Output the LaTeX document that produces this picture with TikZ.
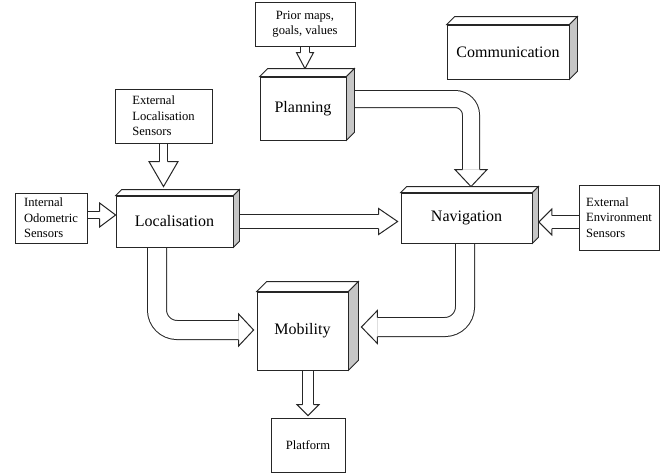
\documentclass[tikz,border=0pt]{standalone}
\usepackage{fontspec}
\setmainfont{Liberation Serif}
\usetikzlibrary{positioning, calc, backgrounds}

\begin{document}
\begin{tikzpicture}[
  x=1pt, y=-1pt,
  line width=0.8pt,
  module/.style={
    rectangle,
    draw=black!85,
    fill=white,
    inner sep=0pt,
    font=\fontsize{16}{19}\selectfont
  },
  sensor/.style={
    rectangle,
    draw=black!85,
    fill=white,
    inner sep=0pt,
    align=left,
    font=\fontsize{12.6}{15.5}\selectfont
  },
  topface/.style={draw=black!85, fill=white},
  sideface/.style={draw=black!85, fill=gray!45},
  shaft/.style={
    line width=1pt,
    draw=black!85,
    double=white,
    double distance=#1
  },
  pics/blockhead/.style n args={3}{code={
    \fill[white] (-#3,-#2/2) -- (0,0) -- (-#3,#2/2) -- cycle;
    \draw[draw=black!85, line width=1pt, line join=miter]
      (-#3,#1/2+0.5pt) -- (-#3,#2/2) -- (0,0) -- (-#3,-#2/2) -- (-#3,-#1/2-0.5pt);
  }}
]
\useasboundingbox (0,0) rectangle (665,474);

% Modules (front faces)
\node[module, minimum width=86pt,  minimum height=63pt] (plan) at (303,108.5) {Planning};
\node[module, minimum width=117pt, minimum height=51pt] (loc)  at (174.5,221.5) {Localisation};
\node[module, minimum width=131pt, minimum height=50pt] (nav)  at (466.5,218) {Navigation};
\node[module, minimum width=91pt,  minimum height=78pt] (mob)  at (302.5,331) {Mobility};
\node[module, minimum width=122pt, minimum height=54pt] (comm) at (508,52) {Communication};

% Depth of the modules
\draw[topface]  (plan.north west) -- ++(8,-8) -- ([shift={(8,-8)}]plan.north east) -- (plan.north east) -- cycle;
\draw[sideface] (plan.north east) -- ++(8,-8) -- ([shift={(8,-8)}]plan.south east) -- (plan.south east) -- cycle;
\draw[topface]  (loc.north west) -- ++(6,-6) -- ([shift={(6,-6)}]loc.north east) -- (loc.north east) -- cycle;
\draw[sideface] (loc.north east) -- ++(6,-6) -- ([shift={(6,-6)}]loc.south east) -- (loc.south east) -- cycle;
\draw[topface]  (nav.north west) -- ++(6,-6) -- ([shift={(6,-6)}]nav.north east) -- (nav.north east) -- cycle;
\draw[sideface] (nav.north east) -- ++(6,-6) -- ([shift={(6,-6)}]nav.south east) -- (nav.south east) -- cycle;
\draw[topface]  (mob.north west) -- ++(10,-10) -- ([shift={(10,-10)}]mob.north east) -- (mob.north east) -- cycle;
\draw[sideface] (mob.north east) -- ++(10,-10) -- ([shift={(10,-10)}]mob.south east) -- (mob.south east) -- cycle;
\draw[topface]  (comm.north west) -- ++(8,-8) -- ([shift={(8,-8)}]comm.north east) -- (comm.north east) -- cycle;
\draw[sideface] (comm.north east) -- ++(8,-8) -- ([shift={(8,-8)}]comm.south east) -- (comm.south east) -- cycle;

% Inputs and platform
\node[sensor, align=center, minimum width=100pt, minimum height=44pt] (prior) at (305,24) {Prior maps,\\goals, values};
\node[sensor, minimum width=97pt, minimum height=54pt] (extloc) at (163.5,116) {External\\Localisation\\Sensors};
\node[sensor, minimum width=72pt, minimum height=50pt] (intodo) at (51,218) {Internal\\Odometric\\Sensors};
\node[sensor, minimum width=80pt, minimum height=65pt] (extenv) at (619,217.5) {External\\Environment\\Sensors};
\node[sensor, align=center, minimum width=74pt, minimum height=54pt] (plat) at (308,445) {Platform};

% Arrow tips
\coordinate (t-plan)    at ($(prior.south |- plan.north)+(0,-8)$);
\coordinate (t-loc)     at ($(extloc.south |- loc.north)+(0,-9)$);
\coordinate (t-odo)     at ($(loc.west)+(0,-6.5)$);
\coordinate (t-env)     at ($(nav.east)+(6.5,4)$);
\coordinate (t-plat)    at ($(plat.north)+(0,-2)$);
\coordinate (t-nav)     at ($(nav.west |- loc.east)+(-3,0)$);
\coordinate (s-plannav) at ($(plan.east)+(8,-9.5)$);
\coordinate (t-plannav) at ($(nav.north)+(4.5,-6)$);
\coordinate (s-locmob)  at ($(loc.south)+(-17.5,0)$);
\coordinate (t-locmob)  at ($(mob.west)+(-3,-1)$);
\coordinate (s-navmob)  at ($(nav.south)+(-1.5,0)$);
\coordinate (t-navmob)  at ($(mob.east)+(13,-4)$);

% Block arrows
\begin{scope}[on background layer]
\draw[shaft=8pt, shorten >=16pt] (prior) -- (t-plan);
\pic[rotate=-90] at (t-plan) {blockhead={8pt}{17pt}{16pt}};

\draw[shaft=7pt, shorten >=25pt] (extloc) -- (t-loc);
\pic[rotate=-90] at (t-loc) {blockhead={7pt}{29pt}{25pt}};

\draw[shaft=6pt, shorten >=16pt] (intodo.east |- t-odo) -- (t-odo);
\pic at (t-odo) {blockhead={6pt}{24pt}{16pt}};

\draw[shaft=12pt, shorten >=13pt] (extenv.west |- t-env) -- (t-env);
\pic[rotate=180] at (t-env) {blockhead={12pt}{26pt}{13pt}};

\draw[shaft=13pt, shorten >=19pt] ($(loc.east)+(6,0)$) -- (t-nav);
\pic at (t-nav) {blockhead={13pt}{26pt}{19pt}};

\draw[shaft=16pt, rounded corners=16pt, shorten >=17pt] (s-plannav) -| (t-plannav);
\pic[rotate=-90] at (t-plannav) {blockhead={16pt}{32pt}{17pt}};

\draw[shaft=18pt, rounded corners=20pt, shorten >=15pt] (s-locmob) |- (t-locmob);
\pic at (t-locmob) {blockhead={18pt}{32pt}{15pt}};

\draw[shaft=18pt, rounded corners=20pt, shorten >=16pt] (s-navmob) |- (t-navmob);
\pic[rotate=180] at (t-navmob) {blockhead={18pt}{33pt}{16pt}};

\draw[shaft=10pt, shorten >=11pt] (t-plat |- mob.south) -- (t-plat);
\pic[rotate=-90] at (t-plat) {blockhead={10pt}{22pt}{11pt}};
\end{scope}

\end{tikzpicture}
\end{document}
